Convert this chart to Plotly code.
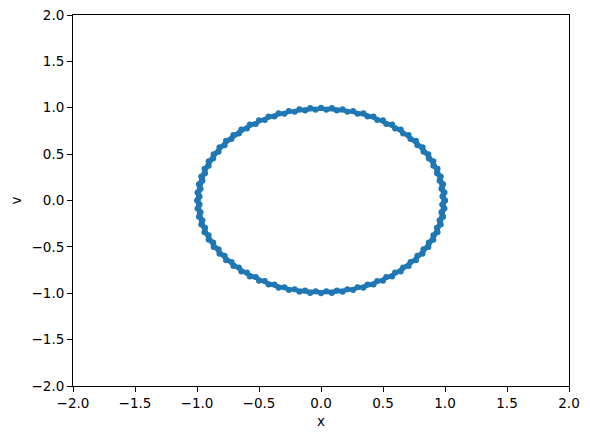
import plotly.graph_objects as go

# Phase-space trajectory (x, v), first loop
x_loop1 = [1.0, 0.996, 0.985, 0.966, 0.940, 0.906, 0.866, 0.819, 0.766, 0.707, 0.643, 0.574, 0.500, 0.423, 0.342, 0.259, 0.174, 0.087,
           0.0, -0.087, -0.174, -0.259, -0.342, -0.423, -0.500, -0.574, -0.643, -0.707, -0.766, -0.819, -0.866, -0.906, -0.940, -0.966, -0.985, -0.996,
           -1.0, -0.996, -0.985, -0.966, -0.940, -0.906, -0.866, -0.819, -0.766, -0.707, -0.643, -0.574, -0.500, -0.423, -0.342, -0.259, -0.174, -0.087,
           0.0, 0.087, 0.174, 0.259, 0.342, 0.423, 0.500, 0.574, 0.643, 0.707, 0.766, 0.819, 0.866, 0.906, 0.940, 0.966, 0.985, 0.996, 1.0]
v_loop1 = [0.0, -0.087, -0.174, -0.259, -0.342, -0.423, -0.500, -0.574, -0.643, -0.707, -0.766, -0.819, -0.866, -0.906, -0.940, -0.966, -0.985, -0.996,
           -1.0, -0.996, -0.985, -0.966, -0.940, -0.906, -0.866, -0.819, -0.766, -0.707, -0.643, -0.574, -0.500, -0.423, -0.342, -0.259, -0.174, -0.087,
           0.0, 0.087, 0.174, 0.259, 0.342, 0.423, 0.500, 0.574, 0.643, 0.707, 0.766, 0.819, 0.866, 0.906, 0.940, 0.966, 0.985, 0.996,
           1.0, 0.996, 0.985, 0.966, 0.940, 0.906, 0.866, 0.819, 0.766, 0.707, 0.643, 0.574, 0.500, 0.423, 0.342, 0.259, 0.174, 0.087, 0.0]

# second, slightly smaller loop
x_loop2 = [0.979, 0.971, 0.956, 0.935, 0.906, 0.869, 0.826, 0.777, 0.722, 0.662, 0.597, 0.526, 0.453, 0.375, 0.295, 0.212, 0.128, 0.043,
           -0.043, -0.128, -0.212, -0.295, -0.375, -0.453, -0.526, -0.597, -0.662, -0.722, -0.777, -0.826, -0.869, -0.906, -0.935, -0.956, -0.971, -0.979,
           -0.979, -0.971, -0.956, -0.935, -0.906, -0.869, -0.826, -0.777, -0.722, -0.662, -0.597, -0.526, -0.453, -0.375, -0.295, -0.212, -0.128, -0.043,
           0.043, 0.128, 0.212, 0.295, 0.375, 0.453, 0.526, 0.597, 0.662, 0.722, 0.777, 0.826, 0.869, 0.906, 0.935, 0.956, 0.971, 0.979, 0.979]
v_loop2 = [-0.043, -0.128, -0.212, -0.295, -0.375, -0.453, -0.526, -0.597, -0.662, -0.722, -0.777, -0.826, -0.869, -0.906, -0.935, -0.956, -0.971, -0.979,
           -0.979, -0.971, -0.956, -0.935, -0.906, -0.869, -0.826, -0.777, -0.722, -0.662, -0.597, -0.526, -0.453, -0.375, -0.295, -0.212, -0.128, -0.043,
           0.043, 0.128, 0.212, 0.295, 0.375, 0.453, 0.526, 0.597, 0.662, 0.722, 0.777, 0.826, 0.869, 0.906, 0.935, 0.956, 0.971, 0.979,
           0.979, 0.971, 0.956, 0.935, 0.906, 0.869, 0.826, 0.777, 0.722, 0.662, 0.597, 0.526, 0.453, 0.375, 0.295, 0.212, 0.128, 0.043, -0.043]

tick_vals = [-2.0, -1.5, -1.0, -0.5, 0.0, 0.5, 1.0, 1.5, 2.0]
tick_text = ["\u22122.0", "\u22121.5", "\u22121.0", "\u22120.5", "0.0", "0.5", "1.0", "1.5", "2.0"]

color = "#1f77b4"
fig = go.Figure()
for xs, vs in [(x_loop1, v_loop1), (x_loop2, v_loop2)]:
    fig.add_trace(go.Scatter(x=xs, y=vs, mode="lines+markers",
                             line=dict(color=color, width=2.5),
                             marker=dict(color=color, size=6),
                             showlegend=False))

axis_common = dict(range=[-2, 2], tickvals=tick_vals, ticktext=tick_text,
                   showgrid=False, zeroline=False, showline=True, linecolor="black",
                   linewidth=1, mirror=True, ticks="outside", ticklen=5, tickwidth=1,
                   tickcolor="black", ticklabeloverflow="allow", automargin=False,
                   tickfont=dict(family="DejaVu Sans", size=13.5, color="black"))

fig.update_layout(
    width=590, height=438,
    margin=dict(l=65, r=29, t=7, b=60, autoexpand=False),
    paper_bgcolor="white", plot_bgcolor="white",
    font=dict(family="DejaVu Sans", size=13.5, color="black"),
    xaxis=dict(**axis_common, title=dict(text="x", standoff=6, font=dict(size=13.5))),
    yaxis=dict(**axis_common, title=dict(text="v", standoff=8, font=dict(size=13.5))),
)

fig.write_html("out.html")
